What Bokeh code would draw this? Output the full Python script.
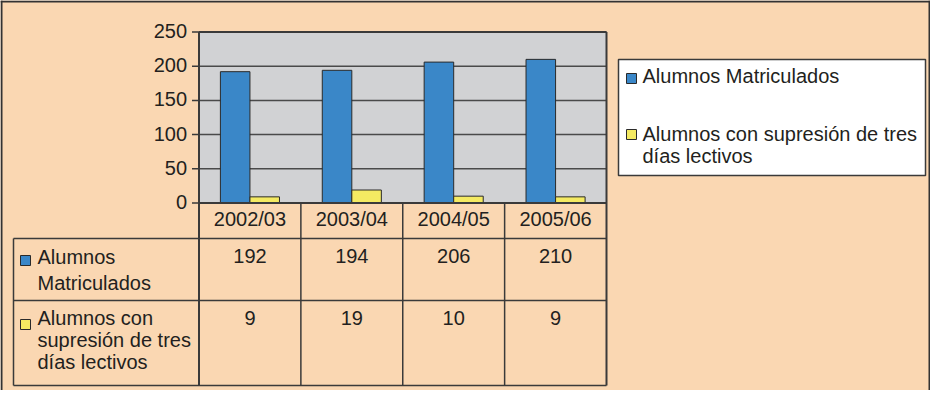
from bokeh.plotting import figure
from bokeh.models import Range1d, ColumnDataSource
from bokeh.embed import file_html
from bokeh.resources import INLINE
from bokeh.core.properties import value

# ---------------- data ----------------
categories = ["2002/03", "2003/04", "2004/05", "2005/06"]
series_names = ["Alumnos Matriculados", "Alumnos con supresión de tres días lectivos"]
matriculados = [192, 194, 206, 210]
supresion = [9, 19, 10, 9]
y_ticks = [0, 50, 100, 150, 200, 250]
row_label_lines = [["Alumnos", "Matriculados"],
                   ["Alumnos con", "supresión de tres", "días lectivos"]]
legend_label_lines = [["Alumnos Matriculados"],
                      ["Alumnos con supresión de tres", "días lectivos"]]

# ---------------- style / layout ----------------
PEACH = "#FAD7B2"
PLOT_BG = "#D1D2D4"
BLUE = "#3A87C8"
YELLOW = "#F4EA62"
DARK = "#3a3a3a"
TXT = "#231f20"
FONT = value("Liberation Sans")
FS = "20px"
TDY = -8  # baseline correction for rendered text

W, H = 930, 390
OX, OY = 8, 8
PL, PR, PT, PB = 206.5, 614.0, 39.5, 210.5
YMAX = y_ticks[-1]
n = len(categories)
pxc = (PR - PL) / n
upp = YMAX / (PB - PT)

x_range = Range1d(start=-(PL - OX) / pxc, end=n + (OX + W - PR) / pxc)
y_range = Range1d(start=-(OY + H - PB) * upp, end=YMAX + (PT - OY) * upp)

p = figure(width=W, height=H, x_range=x_range, y_range=y_range,
           output_backend="svg", toolbar_location=None,
           x_axis_type=None, y_axis_type=None, min_border=0,
           background_fill_color=PEACH, border_fill_color=PEACH,
           outline_line_color=None)
p.extra_x_ranges = {"px": Range1d(OX, OX + W)}
p.extra_y_ranges = {"py": Range1d(OY + H, OY)}

T_LEFT = 21
ROW_LINES = [246, 308, 393]
T_BOTTOM = ROW_LINES[-1]

def txt(**kw):
    base = dict(text_baseline="alphabetic", text_font=FONT,
                text_font_size=FS, text_color=TXT)
    base.update(kw)
    return p.text(**base)

# plot background
p.quad(left=0, right=n, bottom=0, top=YMAX, fill_color=PLOT_BG, line_color=None)

# gridlines
p.segment(x0=[0] * len(y_ticks), x1=[n] * len(y_ticks), y0=y_ticks, y1=y_ticks,
          line_color="#4a4a4a", line_width=1.5)

# tick marks and labels
p.segment(x0=[PL - 7] * len(y_ticks), x1=[PL] * len(y_ticks), y0=y_ticks, y1=y_ticks,
          line_color=DARK, line_width=1.5, x_range_name="px")
txt(x=[PL - 12] * len(y_ticks), y=y_ticks, text=[str(t) for t in y_ticks],
    x_range_name="px", text_align="right", y_offset=7 + TDY)

# bars
BW = 0.29
src = ColumnDataSource(dict(
    xb=[i + 0.5 - BW / 2 for i in range(n)],
    xy=[i + 0.5 + BW / 2 for i in range(n)],
    m=matriculados, s=supresion))
p.vbar(x="xb", top="m", bottom=0, width=BW, source=src,
       fill_color=BLUE, line_color="#2a2a2a", line_width=1)
p.vbar(x="xy", top="s", bottom=0, width=BW, source=src,
       fill_color=YELLOW, line_color="#2a2a2a", line_width=1)

# plot frame top / zero line
p.segment(x0=[0, 0], x1=[n, n], y0=[YMAX, 0], y1=[YMAX, 0], line_color=DARK, line_width=2)

# vertical lines (plot edges + table columns)
p.segment(x0=[0, n], x1=[0, n], y0=[PT, PT], y1=[T_BOTTOM, T_BOTTOM],
          line_color=DARK, line_width=2, y_range_name="py")
inner = list(range(1, n))
p.segment(x0=inner, x1=inner, y0=[PB] * len(inner), y1=[T_BOTTOM] * len(inner),
          line_color=DARK, line_width=1.5, y_range_name="py")
p.segment(x0=[T_LEFT], x1=[T_LEFT], y0=[ROW_LINES[0]], y1=[T_BOTTOM],
          line_color=DARK, line_width=1.5, x_range_name="px", y_range_name="py")
p.segment(x0=[T_LEFT] * 3, x1=[PR] * 3, y0=ROW_LINES, y1=ROW_LINES,
          line_color=DARK, line_width=1.5, x_range_name="px", y_range_name="py")

# table header / values
centers = [i + 0.5 for i in range(n)]
txt(x=centers, y=[234 + TDY] * n, text=categories, y_range_name="py", text_align="center")
txt(x=centers, y=[271 + TDY] * n, text=[str(v) for v in matriculados],
    y_range_name="py", text_align="center")
txt(x=centers, y=[333 + TDY] * n, text=[str(v) for v in supresion],
    y_range_name="py", text_align="center")

# row labels
colors = [BLUE, YELLOW]
sq_tops = [263, 327]
line_y = [[272, 298], [333, 355, 377]]
for k in range(2):
    p.quad(left=[28], right=[38], top=[sq_tops[k]], bottom=[sq_tops[k] + 10],
           fill_color=colors[k], line_color="#2a2a2a", line_width=1,
           x_range_name="px", y_range_name="py")
    lines = row_label_lines[k]
    txt(x=[45] * len(lines), y=[v + TDY for v in line_y[k]], text=lines,
        x_range_name="px", y_range_name="py", text_align="left")

# legend
LG_L, LG_R, LG_T, LG_B = 626, 933, 67, 183
p.quad(left=[LG_L], right=[LG_R], top=[LG_T], bottom=[LG_B],
       fill_color="white", line_color=DARK, line_width=1.5,
       x_range_name="px", y_range_name="py")
lg_sq = [81, 137]
lg_y = [[91], [149, 171]]
for k in range(2):
    p.quad(left=[LG_L + 8], right=[LG_L + 18], top=[lg_sq[k]], bottom=[lg_sq[k] + 10],
           fill_color=colors[k], line_color="#2a2a2a", line_width=1,
           x_range_name="px", y_range_name="py")
    lines = legend_label_lines[k]
    txt(x=[LG_L + 24] * len(lines), y=[v + TDY for v in lg_y[k]], text=lines,
        x_range_name="px", y_range_name="py", text_align="left")

# outer border (top, left, right)
p.segment(x0=[OX, OX + 1, OX + W - 1], x1=[OX + W, OX + 1, OX + W - 1],
          y0=[OY + 1, OY, OY], y1=[OY + 1, OY + H, OY + H],
          line_color="#333333", line_width=2,
          x_range_name="px", y_range_name="py")

open("out.html", "w").write(file_html(p, INLINE))
